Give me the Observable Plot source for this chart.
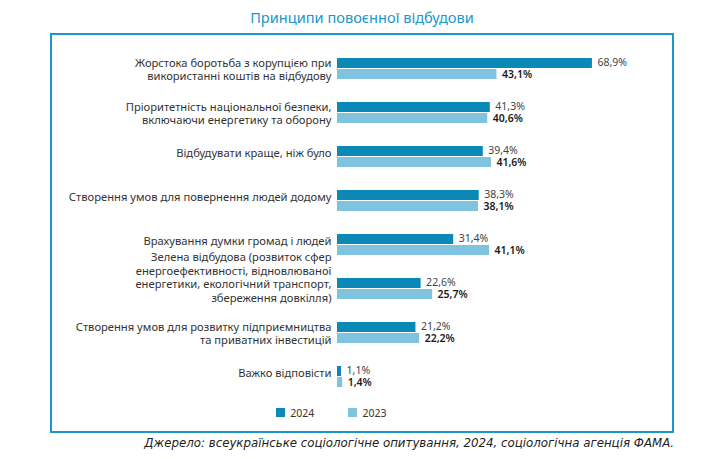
<!DOCTYPE html>
<html><head><meta charset="utf-8">
<script src="https://cdn.jsdelivr.net/npm/d3@7"></script>
<script src="https://cdn.jsdelivr.net/npm/@observablehq/plot@0.6"></script>
<style>
body{margin:0;background:#fff;font-family:"Noto Sans",sans-serif;}
#wrap{position:relative;width:705px;height:459px;overflow:hidden;}
#title{position:absolute;left:0;top:7px;width:724px;text-align:center;font-size:14.6px;color:#2196c9;}
#frame{position:absolute;left:50px;top:33px;width:620px;height:396px;border:2px solid #1a97cc;}
#chart{position:absolute;left:52px;top:33px;}
#legend{position:absolute;left:276px;top:396px;}
#caption{position:absolute;right:31px;top:436px;font-family:"DejaVu Sans",sans-serif;font-style:italic;font-size:11.8px;color:#222;white-space:nowrap;}
.lg-swatch{margin-right:34px !important;font-size:10.5px;color:#333;}
</style>
</head><body>
<div id="wrap">
  <div id="title"></div>
  <div id="frame"></div>
  <div id="chart"></div>
  <div id="legend"></div>
  <div id="caption"></div>
</div>
<script>
const titleText = "Принципи повоєнної відбудови";
const captionText = "Джерело: всеукраїнське соціологічне опитування, 2024, соціологічна агенція ФАМА.";
const categories = [
  "Жорстока боротьба з корупцією при\nвикористанні коштів на відбудову",
  "Пріоритетність національної безпеки,\nвключаючи енергетику та оборону",
  "Відбудувати краще, ніж було",
  "Створення умов для повернення людей додому",
  "Врахування думки громад і людей",
  "Зелена відбудова (розвиток сфер\nенергоефективності, відновлюваної\nенергетики, екологічний транспорт,\nзбереження довкілля)",
  "Створення умов для розвитку підприємництва\nта приватних інвестицій",
  "Важко відповісти"
];
const years = ["2024", "2023"];
const values2024 = [68.9, 41.3, 39.4, 38.3, 31.4, 22.6, 21.2, 1.1];
const values2023 = [43.1, 40.6, 41.6, 38.1, 41.1, 25.7, 22.2, 1.4];
const colors = ["#0a88b8", "#80c3de"];

const data = [];
categories.forEach((c, i) => {
  data.push({cat: c, year: "2024", value: values2024[i]});
  data.push({cat: c, year: "2023", value: values2023[i]});
});
const fmt = v => v.toFixed(1).replace(".", ",") + "%";
const nLines = c => c.split("\n").length;

document.getElementById("title").textContent = titleText;
document.getElementById("caption").textContent = captionText;

const common = {fy: "cat", y: "year"};
const plot = Plot.plot({
  width: 620,
  height: 378,
  marginLeft: 285,
  marginRight: 39,
  marginTop: 22,
  marginBottom: 21,
  style: {fontFamily: "Noto Sans, sans-serif", background: "transparent", overflow: "visible"},
  x: {domain: [0, 80], axis: null},
  y: {domain: years, axis: null, padding: 0.05},
  fy: {domain: categories, axis: null, paddingInner: 0.48, paddingOuter: 0},
  color: {domain: years, range: colors},
  marks: [
    Plot.barX(data, {...common, x: "value", fill: "year"}),
    Plot.text(data.filter(d => d.year === "2024"), {...common, x: "value", text: d => fmt(d.value), textAnchor: "start", dx: 5, dy: -0.5, fontSize: 10.5, fill: "#444"}),
    Plot.text(data.filter(d => d.year === "2023"), {...common, x: "value", text: d => fmt(d.value), textAnchor: "start", dx: 5, dy: 0.5, fontSize: 10.5, fontWeight: 600, fill: "#1a1a1a"}),
    Plot.text(categories.filter(c => nLines(c) === 1), {fy: d => d, frameAnchor: "left", textAnchor: "end", dx: -6, dy: -4, text: d => d, fontSize: 11.2, fill: "#333"}),
    Plot.text(categories.filter(c => nLines(c) === 2), {fy: d => d, frameAnchor: "left", textAnchor: "end", dx: -6, dy: 0, lineHeight: 1.2, text: d => d, fontSize: 11.2, fill: "#333"}),
    Plot.text(categories.filter(c => nLines(c) > 2), {fy: d => d, frameAnchor: "left", textAnchor: "end", dx: -6, dy: -12, lineHeight: 1.23, text: d => d, fontSize: 11.2, fill: "#333"})
  ]
});
document.getElementById("chart").appendChild(plot);

const legend = Plot.legend({color: {domain: years, range: colors}, swatchSize: 9, className: "lg", style: {fontFamily: "Noto Sans, sans-serif"}});
document.getElementById("legend").appendChild(legend);
</script>
</body></html>
